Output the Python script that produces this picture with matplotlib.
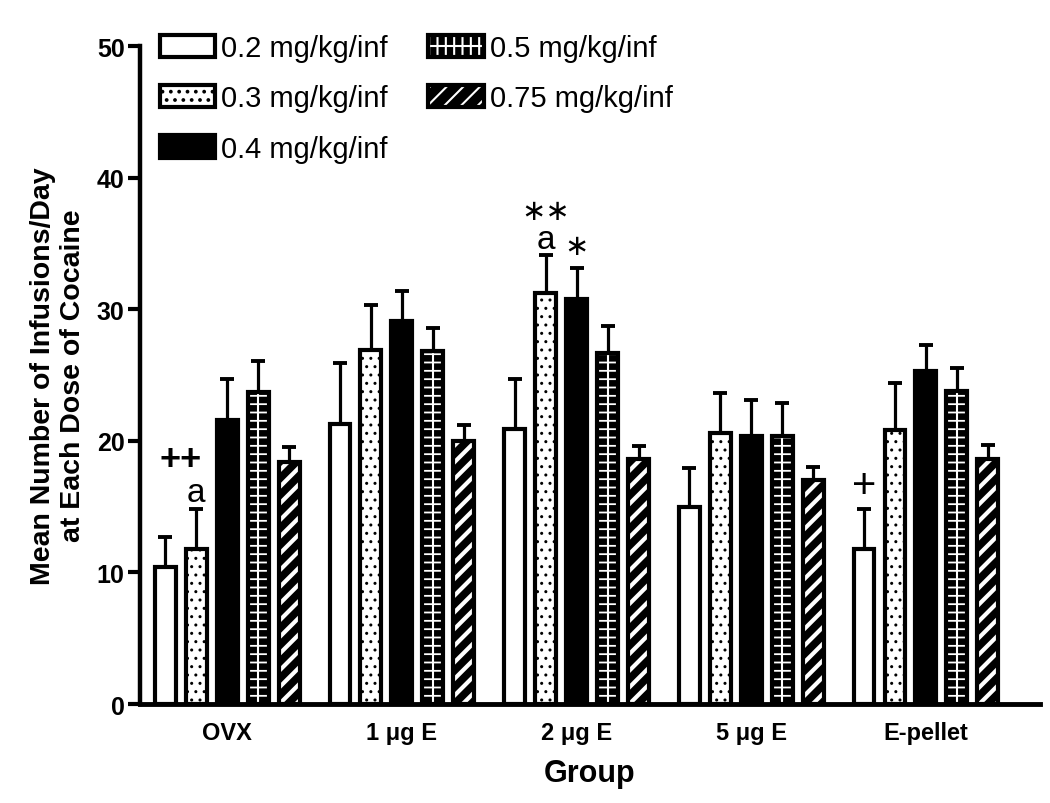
import numpy as np
import matplotlib
matplotlib.use('Agg')
from matplotlib import pyplot as plt
from matplotlib.lines import Line2D
from matplotlib.patches import Patch

plt.rcParams['font.family'] = ['Liberation Sans', 'DejaVu Sans']
plt.rcParams['hatch.linewidth'] = 1.5

groups = ['OVX', '1 μg E', '2 μg E', '5 μg E', 'E-pellet']
doses = ['0.2 mg/kg/inf', '0.3 mg/kg/inf', '0.4 mg/kg/inf', '0.5 mg/kg/inf', '0.75 mg/kg/inf']

# mean infusions/day per dose, one value per group
mean_02 = [10.4, 21.3, 20.9, 15.0, 11.8]
mean_03 = [11.8, 26.9, 31.2, 20.6, 20.8]
mean_04 = [21.6, 29.1, 30.8, 20.4, 25.3]
mean_05 = [23.7, 26.8, 26.7, 20.4, 23.8]
mean_075 = [18.4, 20.0, 18.6, 17.0, 18.6]

# SEM (upper error bars only)
sem_02 = [2.3, 4.6, 3.8, 2.9, 3.0]
sem_03 = [3.0, 3.4, 2.9, 3.0, 3.6]
sem_04 = [3.1, 2.3, 2.3, 2.7, 2.0]
sem_05 = [2.4, 1.8, 2.0, 2.5, 1.7]
sem_075 = [1.1, 1.2, 1.0, 1.0, 1.05]

means = [mean_02, mean_03, mean_04, mean_05, mean_075]
sems = [sem_02, sem_03, sem_04, sem_05, sem_075]

# (face colour, hatch, hatch colour, hatch linewidth)
styles = [('white', None, 'black', 1.0),
          ('white', '..', 'black', 1.0),
          ('black', None, 'white', 1.0),
          ('black', '--', 'white', 1.3),
          ('black', '//', 'white', 3.0)]

fig = plt.figure(figsize=(10.5, 8.04), dpi=100)
ax = fig.add_axes([0.1333, 0.1231, 0.8567, 0.8184])

x = np.arange(len(groups))
step = 0.1774
width = 0.12
handles = []
for i, (vals, errs, (face, hatch, hcol, hlw)) in enumerate(zip(means, sems, styles)):
    xpos = x + (i - 2) * step
    inner = ax.bar(xpos, vals, width, color=face, edgecolor=hcol, hatch=hatch,
                   linewidth=0, zorder=2)
    for p in inner:
        if hasattr(p, 'set_hatch_linewidth'):
            p.set_hatch_linewidth(hlw)
    if i == 3:
        ax.vlines(xpos, 0, vals, color='white', lw=1.5, zorder=2.5)
    border = ax.bar(xpos, vals, width, fill=False, edgecolor='black',
                    linewidth=3, zorder=3)
    ax.errorbar(xpos, vals, yerr=[np.zeros(len(errs)), errs], fmt='none',
                ecolor='black', elinewidth=2.3, capsize=4.8, capthick=2.8, zorder=4)
    if i == 3:
        leg_fill = Patch(facecolor='black', edgecolor='white', hatch='||', linewidth=0)
        handles.append((leg_fill, Line2D([], [], color='white', lw=1.5), border[0]))
    else:
        handles.append((inner[0], border[0]))

# significance marks
ax.text(x[0] - 1.5 * step, 18.6, '++', ha='center', va='center', fontsize=26, fontweight='bold')
ax.text(x[0] - step, 16.1, 'a', ha='center', va='center', fontsize=24)
ax.text(x[2] - step, 37.5, '∗∗', ha='center', va='center', fontsize=21,
        family=['DejaVu Sans'])
ax.text(x[2] - step, 35.3, 'a', ha='center', va='center', fontsize=24)
ax.text(x[2], 34.8, '∗', ha='center', va='center', fontsize=21, family=['DejaVu Sans'])
ax.text(x[4] - 2 * step, 16.6, '+', ha='center', va='center', fontsize=30)

ax.set_xlim(-0.5, 4.65)
ax.set_ylim(0, 50)
ax.set_yticks([0, 10, 20, 30, 40, 50])
ax.set_xticks(x)
ax.set_xticklabels(groups, fontsize=17, fontweight='bold')
for lbl in ax.get_yticklabels():
    lbl.set_fontweight('bold')
    lbl.set_fontsize(18)
ax.tick_params(axis='x', length=0, pad=12)
ax.tick_params(axis='y', length=9, width=3, pad=2)
for side in ('top', 'right'):
    ax.spines[side].set_visible(False)
ax.spines['left'].set_linewidth(3.2)
ax.spines['bottom'].set_linewidth(3.5)

ax.set_xlabel('Group', fontsize=22, fontweight='bold', labelpad=10)
ax.set_ylabel('Mean Number of Infusions/Day\nat Each Dose of Cocaine', fontsize=20.5,
              fontweight='bold', labelpad=8)

ax.legend(handles, doses, ncol=2, loc='upper left', bbox_to_anchor=(0.022, 1.018),
          frameon=False, fontsize=21, handlelength=1.9, handleheight=0.8,
          handletextpad=0.2, columnspacing=1.4, labelspacing=0.76,
          borderpad=0, borderaxespad=0)

fig.savefig('out.png', dpi=100)
